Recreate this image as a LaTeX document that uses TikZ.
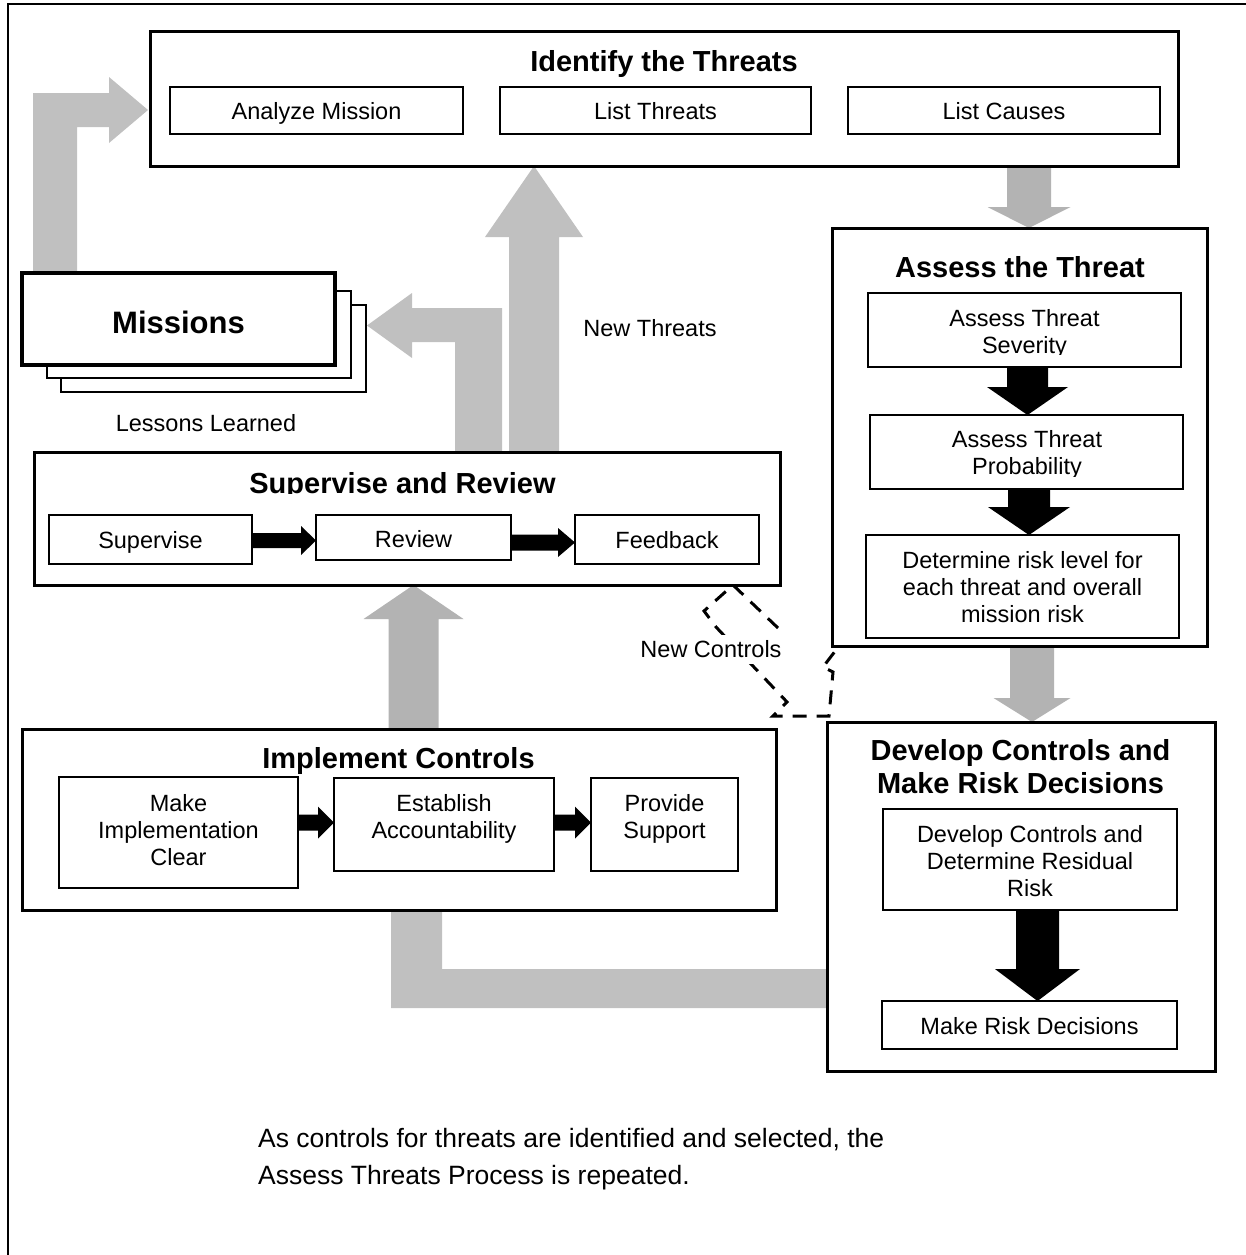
\documentclass[tikz,border=0pt]{standalone}
\usepackage{fontspec}
\setmainfont{Liberation Sans}
\usetikzlibrary{calc}
\pgfdeclarelayer{bg}
\pgfsetlayers{bg,main}
\definecolor{grayA}{HTML}{C0C0C0}
\definecolor{grayB}{HTML}{B3B3B3}
\newcommand\sR{\rule[-5.08pt]{0pt}{27pt}}
\newcommand\sB{\rule[-6.12pt]{0pt}{33pt}}
\newcommand\sM{\rule[-6.4pt]{0pt}{35pt}}
\newcommand\sN{\rule[-9pt]{0pt}{37pt}}
% block arrows: #1 x-ref, #2 start, #3 end, #4 half shaft, #5 half head, #6 head length, #7 colour
\newcommand\bdown[7]{\fill[#7] let \p1=(#1), \p2=(#2), \p3=(#3) in
  (\x1-#4,\y2) -- (\x1+#4,\y2) -- (\x1+#4,\y3+#6) -- (\x1+#5,\y3+#6) -- (\x1,\y3)
  -- (\x1-#5,\y3+#6) -- (\x1-#4,\y3+#6) -- cycle;}
\newcommand\bup[7]{\fill[#7] let \p1=(#1), \p2=(#2), \p3=(#3) in
  (\x1-#4,\y2) -- (\x1+#4,\y2) -- (\x1+#4,\y3-#6) -- (\x1+#5,\y3-#6) -- (\x1,\y3)
  -- (\x1-#5,\y3-#6) -- (\x1-#4,\y3-#6) -- cycle;}
\newcommand\bright[7]{\fill[#7] let \p1=(#1), \p2=(#2), \p3=(#3) in
  (\x2,\y1+#4) -- (\x3-#6,\y1+#4) -- (\x3-#6,\y1+#5) -- (\x3,\y1)
  -- (\x3-#6,\y1-#5) -- (\x3-#6,\y1-#4) -- (\x2,\y1-#4) -- cycle;}
\begin{document}
\begin{tikzpicture}[x=1pt,y=-1pt,
  bigbox/.style={draw, line width=3pt, inner sep=0pt, outer sep=0pt},
  subbox/.style={draw, line width=1.8pt, inner sep=0pt, outer sep=0pt},
  txt/.style={inner sep=0pt, align=center, font=\fontsize{23.5}{27}\selectfont},
  ttl/.style={inner sep=0pt, align=center, font=\fontsize{29}{33}\selectfont\bfseries},
  dashline/.style={line width=3pt, dash pattern=on 14pt off 10pt}
]
\useasboundingbox (0,0) rectangle (1246,1255);
\draw[line width=2.5pt] (8,1258) -- (8,4) -- (1249,4);

% ---------- boxes ----------
\node[bigbox, minimum width=1028pt, minimum height=134pt] (ident) at (664,99) {};
\node[subbox, minimum width=293pt, minimum height=47pt] (analyze) at (316.5,110.5) {};
\node[subbox, minimum width=311pt, minimum height=47pt] (listthr) at (655.5,110.5) {};
\node[subbox, minimum width=312pt, minimum height=47pt] (listcau) at (1004,110.5) {};

\node[bigbox, minimum width=375pt, minimum height=418pt] (assess) at (1019.5,437) {};
\node[subbox, minimum width=313pt, minimum height=74pt] (sev) at (1024.5,330) {};
\node[subbox, minimum width=313pt, minimum height=74pt] (prob) at (1026.5,452) {};
\node[subbox, minimum width=313pt, minimum height=103pt] (det) at (1022.5,586.5) {};

\node[bigbox, minimum width=388pt, minimum height=349pt] (develop) at (1021,896.5) {};
\node[subbox, minimum width=294pt, minimum height=101pt] (devsub) at (1030,859.5) {};
\node[subbox, minimum width=295pt, minimum height=48pt] (mrd) at (1029.5,1025) {};

\node[bigbox, minimum width=746pt, minimum height=133pt] (superv) at (407,518.5) {};
\node[subbox, minimum width=203pt, minimum height=49pt] (sup) at (150.5,539.5) {};
\node[subbox, minimum width=195pt, minimum height=45pt] (rev) at (413.5,537.5) {};
\node[subbox, minimum width=184pt, minimum height=49pt] (feed) at (667,539.5) {};

\node[bigbox, minimum width=754pt, minimum height=181pt] (impl) at (399,819.5) {};
\node[subbox, minimum width=239pt, minimum height=111pt] (make) at (178.5,832.5) {};
\node[subbox, minimum width=220pt, minimum height=93pt] (est) at (444,824.5) {};
\node[subbox, minimum width=147pt, minimum height=93pt] (prov) at (664.5,824.5) {};

\node[draw, line width=1.6pt, fill=white, inner sep=0pt, minimum width=305pt, minimum height=87pt] (mis3) at (213.5,348.5) {};
\node[draw, line width=1.6pt, fill=white, inner sep=0pt, minimum width=304pt, minimum height=87pt] (mis2) at (199,334.5) {};
\node[draw, line width=3.5pt, fill=white, inner sep=0pt, outer sep=0pt, minimum width=313pt, minimum height=92pt] (mis) at (178.5,319) {};

% ---------- block arrows ----------
\begin{pgfonlayer}{bg}
\bdown{[xshift=9.5pt]assess.north}{ident.south}{assess.north}{22pt}{41.5pt}{21pt}{grayB}
\bdown{[xshift=11pt]develop.north}{assess.south}{develop.north}{22pt}{38.5pt}{24pt}{grayB}
\bup{[xshift=6.5pt]superv.south}{impl.north}{superv.south}{25pt}{50pt}{34pt}{grayB}
\bup{[xshift=127pt]superv.north}{superv.north}{ident.south}{25pt}{49pt}{71pt}{grayA}
% Missions -> Identify the Threats
\fill[grayA] (33,273) -- (33,93) -- (109,93) -- (109,77) -- (148,110) -- (109,143)
  -- (109,127) -- (77,127) -- (77,273) -- cycle;
% Supervise and Review -> Missions
\fill[grayA] (502,452) -- (502,308) -- (412,308) -- (412,293) -- (367,325.5) -- (412,358)
  -- (412,342) -- (455,342) -- (455,452) -- cycle;
% Develop Controls -> Implement Controls
\fill[grayA] (391,910) -- (442,910) -- (442,969) -- (827,969) -- (827,1008) -- (391,1008) -- cycle;
% black arrows
\bdown{[xshift=3pt]sev.south}{sev.south}{prob.north}{20.5pt}{40.5pt}{28pt}{black}
\bdown{[xshift=2.5pt]prob.south}{prob.south}{det.north}{21pt}{41pt}{28pt}{black}
\bdown{[xshift=7.5pt]devsub.south}{devsub.south}{mrd.north}{21.5pt}{42.5pt}{32pt}{black}
\bright{[yshift=-1pt]sup.east}{sup.east}{rev.west}{7.5pt}{14.5pt}{15pt}{black}
\bright{[yshift=-3pt]feed.west}{rev.east}{feed.west}{8pt}{14.5pt}{17pt}{black}
\bright{[yshift=2pt]est.west}{make.east}{est.west}{8pt}{16pt}{16pt}{black}
\bright{[yshift=2pt]est.west}{est.east}{prov.west}{8pt}{16pt}{16pt}{black}
\end{pgfonlayer}

% ---------- dashed "New Controls" outline ----------
\draw[dashline] (778,628) -- (733,585) -- (704,611) -- (716,627) -- (787,702) -- (773,716)
  -- (829,716) -- (833,672) -- (823,667) -- (836,650);

% ---------- texts ----------
\node[ttl] (identT) at (664,61) {\sB Identify the Threats};
\node[txt] (analyzeT) at (316.5,111) {\sR Analyze Mission};
\node[txt] (listthrT) at (655.5,111) {\sR List Threats};
\node[txt] (listcauT) at (1004,111) {\sR List Causes};

\node[ttl] (assessT) at (1020,267) {\sB Assess the Threat};
\begin{scope}
\clip (868,293) rectangle (1181,354.5);
\node[txt] (sevT) at (1024.5,331.5) {\sR Assess Threat\\\sR Severity};
\end{scope}
\begin{scope}
\clip (870,415) rectangle (1183,476.5);
\node[txt] (probT) at (1027,453) {\sR Assess Threat\\\sR Probability};
\end{scope}
\node[txt] (detT) at (1022.5,587) {\sR Determine risk level for\\\sR each threat and overall\\\sR mission risk};

\node[ttl] (devT) at (1020.5,766.5) {\sB Develop Controls and\\\sB Make Risk Decisions};
\node[txt] (devsubT) at (1030,861) {\sR Develop Controls and\\\sR Determine Residual\\\sR Risk};
\node[txt] (mrdT) at (1029.5,1026) {\sR Make Risk Decisions};

\node[inner sep=0pt, font=\fontsize{31}{35}\selectfont\bfseries] (misT) at (178.5,322.5) {\sM Missions};
\node[txt] (lessT) at (206,423.5) {\sR Lessons Learned};
\node[txt] (ntT) at (650,328) {\sR New Threats};

\begin{scope}
\clip (34,452) rectangle (780,493.5);
\node[ttl] (svT) at (402.5,483) {\sB Supervise and Review};
\end{scope}
\node[txt] (supT) at (150.5,540) {\sR Supervise};
\node[txt] (revT) at (413.5,539) {\sR Review};
\node[txt] (feedT) at (667,540) {\sR Feedback};

\node[ttl] (implT) at (398.5,758) {\sB Implement Controls};
\node[txt] (makeT) at (178.5,830) {\sR Make\\\sR Implementation\\\sR Clear};
\node[txt] (estT) at (444,817) {\sR Establish\\\sR Accountability};
\node[txt] (provT) at (664.5,817) {\sR Provide\\\sR Support};

\node[txt, fill=white, inner sep=1pt] (ncT) at (711,649) {\sR New Controls};

\node[inner sep=0pt, align=left, anchor=west, font=\fontsize{26.5}{37}\selectfont] (noteT) at (258,1156.5)
  {\sN As controls for threats are identified and selected, the\\\sN Assess Threats Process is repeated.};
\end{tikzpicture}
\end{document}
